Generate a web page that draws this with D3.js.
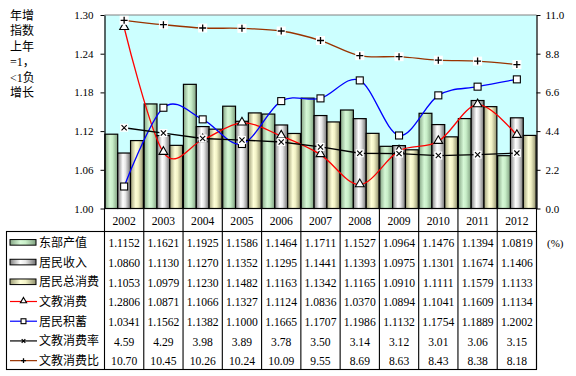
<!DOCTYPE html>
<html>
<head>
<meta charset="utf-8">
<script src="https://cdn.jsdelivr.net/npm/d3@7"></script>
<style>
  body { margin: 0; background: #fff; }
  svg { display: block; }
</style>
</head>
<body>
<div id="root"></div>
<script>
// chart values
const years = ["2002", "2003", "2004", "2005", "2006", "2007", "2008", "2009", "2010", "2011", "2012"];
const eastOutput = [1.1152, 1.1621, 1.1925, 1.1586, 1.1464, 1.1711, 1.1527, 1.0964, 1.1476, 1.1394, 1.0819];
const income = [1.0860, 1.1130, 1.1270, 1.1352, 1.1295, 1.1441, 1.1393, 1.0975, 1.1301, 1.1674, 1.1406];
const consumption = [1.1053, 1.0979, 1.1230, 1.1482, 1.1163, 1.1342, 1.1165, 1.0910, 1.1111, 1.1579, 1.1133];
const eduSpend = [1.2806, 1.0871, 1.1066, 1.1327, 1.1124, 1.0836, 1.0370, 1.0894, 1.1041, 1.1609, 1.1134];
const savings = [1.0341, 1.1562, 1.1382, 1.1000, 1.1665, 1.1707, 1.1986, 1.1132, 1.1754, 1.1889, 1.2002];
const eduRate = [4.59, 4.29, 3.98, 3.89, 3.78, 3.50, 3.14, 3.12, 3.01, 3.06, 3.15];
const eduRatio = [10.70, 10.45, 10.26, 10.24, 10.09, 9.55, 8.69, 8.63, 8.43, 8.38, 8.18];
const leftTicks = [1.00, 1.06, 1.12, 1.18, 1.24, 1.30];
const rightTicks = [0, 2.2, 4.4, 6.6, 8.8, 11.0];
const titleLines = ["年增", "指数", "上年", "=1，", "<1负", "增长"];

const barSeries = [
    { name: "东部产值", values: eastOutput, grad: "gGreen" },
    { name: "居民收入", values: income, grad: "gGray" },
    { name: "居民总消费", values: consumption, grad: "gYellow" }
];
const lineSeries = [
    { name: "文教消费", values: eduSpend, axis: "L", color: "#ff0000", marker: "tri", curve: d3.curveCardinal, fmt: ".4f" },
    { name: "居民积蓄", values: savings, axis: "L", color: "#0000ff", marker: "sq", curve: d3.curveCardinal, fmt: ".4f" },
    { name: "文教消费率", values: eduRate, axis: "R", color: "#000000", marker: "x", curve: d3.curveLinear, fmt: ".2f" },
    { name: "文教消费比", values: eduRatio, axis: "R", color: "#993300", marker: "plus", curve: d3.curveCardinal, fmt: ".2f" }
];

const w = 576, h = 376;
const plotL = 104.5, plotR = 536.5, plotT = 15, plotB = 208.5;
const tableT = 231.5, tableB = 369.5, tableL = 6.5;
const serif = "'Liberation Serif', 'Times New Roman', serif";
const mixed = "'Liberation Serif', 'Noto Sans CJK SC', serif";

const svg = d3.select("#root").append("svg")
    .attr("width", w)
    .attr("height", h);

// gradients for the bars
const defs = svg.append("defs");
const grads = {
    gGreen: ["#86a686", "#d6f8d6", "#c8eec8", "#7f9f7f"],
    gGray: ["#808080", "#ffffff", "#e8e8e8", "#707070"],
    gYellow: ["#9e9e78", "#ffffd8", "#f2f2c6", "#8f8f6c"]
};
Object.entries(grads).forEach(([id, c]) => {
    const g = defs.append("linearGradient").attr("id", id)
        .attr("x1", "0%").attr("x2", "100%").attr("y1", "0%").attr("y2", "0%");
    [0, 40, 60, 100].forEach((o, i) => g.append("stop").attr("offset", o + "%").attr("stop-color", c[i]));
});

const x = d3.scaleBand().domain(years).range([plotL, plotR]).padding(0);
const xs = d3.scaleBand().domain(barSeries.map(d => d.name)).range([0, x.bandwidth()]).paddingOuter(0.03);
const yL = d3.scaleLinear().domain([1, 1.3]).range([plotB, plotT]);
const yR = d3.scaleLinear().domain([0, 11]).range([plotB, plotT]);

// plot area
svg.append("rect")
    .attr("x", plotL).attr("y", plotT)
    .attr("width", plotR - plotL).attr("height", plotB - plotT)
    .attr("fill", "#ccffff");
svg.append("line")
    .attr("x1", plotL).attr("x2", plotR).attr("y1", plotT).attr("y2", plotT)
    .attr("stroke", "#808080");

// bars
barSeries.forEach(s => {
    svg.append("g").selectAll("rect")
        .data(s.values)
        .enter()
        .append("rect")
        .attr("x", (d, i) => x(years[i]) + xs(s.name))
        .attr("y", d => yL(d))
        .attr("width", xs.bandwidth())
        .attr("height", d => plotB - yL(d))
        .attr("fill", `url(#${s.grad})`)
        .attr("stroke", "#000")
        .attr("stroke-width", 1.2);
});

// markers
const drawMarker = (g, type, cx, cy, k) => {
    if (type === "tri") {
        g.append("path")
            .attr("d", d3.symbol(d3.symbolTriangle, 34 * k * k)())
            .attr("transform", `translate(${cx},${cy - 0.5})`)
            .attr("fill", "#fff").attr("stroke", "#000").attr("stroke-width", 1.1);
    } else if (type === "sq") {
        const s = 7 * k;
        g.append("rect").attr("x", cx - s / 2).attr("y", cy - s / 2)
            .attr("width", s).attr("height", s)
            .attr("fill", "#fff").attr("stroke", "#000").attr("stroke-width", 1.1);
    } else if (type === "x") {
        const s = 8 * k, a = 2.6 * k;
        if (k === 1) g.append("rect").attr("x", cx - s / 2).attr("y", cy - s / 2)
            .attr("width", s).attr("height", s).attr("fill", "#fff");
        g.append("path")
            .attr("d", `M${cx - a},${cy - a}L${cx + a},${cy + a}M${cx - a},${cy + a}L${cx + a},${cy - a}`)
            .attr("stroke", "#000").attr("stroke-width", 1.1);
    } else {
        const s = 9 * k, a = 3.5 * k;
        if (k === 1) g.append("rect").attr("x", cx - s / 2).attr("y", cy - s / 2)
            .attr("width", s).attr("height", s).attr("fill", "#fff");
        g.append("path")
            .attr("d", `M${cx - a},${cy}L${cx + a},${cy}M${cx},${cy - a}L${cx},${cy + a}`)
            .attr("stroke", "#000").attr("stroke-width", 1.3);
    }
};

// lines
lineSeries.forEach(s => {
    const y = s.axis === "L" ? yL : yR;
    const line = d3.line()
        .x((d, i) => x(years[i]) + x.bandwidth() / 2)
        .y(d => y(d))
        .curve(s.curve);
    const g = svg.append("g");
    g.append("path")
        .attr("d", line(s.values))
        .attr("fill", "none")
        .attr("stroke", s.color)
        .attr("stroke-width", 1.3);
    s.values.forEach((v, i) => drawMarker(g, s.marker, x(years[i]) + x.bandwidth() / 2, y(v), 1));
});

// axes
const axL = svg.append("g")
    .attr("transform", `translate(${plotL},0)`)
    .call(d3.axisLeft(yL).tickValues(leftTicks).tickFormat(d3.format(".2f")).tickSize(4).tickSizeOuter(0).tickPadding(7));
const axR = svg.append("g")
    .attr("transform", `translate(${plotR},0)`)
    .call(d3.axisRight(yR).tickValues(rightTicks).tickFormat(d3.format(".1f")).tickSize(4).tickSizeOuter(0).tickPadding(5));
[axL, axR].forEach(ax => {
    ax.selectAll("text").attr("font-family", serif).attr("font-size", 11).attr("fill", "#000");
    ax.select(".domain").attr("stroke", "#000").attr("stroke-width", 1.2);
});
axR.selectAll("line").attr("stroke", "#000");

svg.append("text")
    .attr("x", 547).attr("y", 247)
    .attr("font-family", serif).attr("font-size", 11)
    .text("(%)");

// left title
svg.append("g").selectAll("text")
    .data(titleLines)
    .enter()
    .append("text")
    .attr("x", 10)
    .attr("y", (d, i) => 20 + i * 15.4)
    .attr("font-family", mixed)
    .attr("font-size", 12)
    .text(d => d);

// x axis line + data table grid
const grid = svg.append("g").attr("stroke", "#000").attr("stroke-width", 1.1);
grid.append("line").attr("x1", plotL).attr("x2", plotR).attr("y1", plotB).attr("y2", plotB);
grid.append("rect")
    .attr("x", tableL).attr("y", tableT)
    .attr("width", plotR - tableL).attr("height", tableB - tableT)
    .attr("fill", "none");
grid.selectAll("line.sep")
    .data(years.map(d => x(d)).concat([plotR]))
    .enter()
    .append("line")
    .attr("class", "sep")
    .attr("x1", d => d).attr("x2", d => d)
    .attr("y1", plotB).attr("y2", tableB);

// year labels
svg.append("g").selectAll("text")
    .data(years)
    .enter()
    .append("text")
    .attr("transform", d => `translate(${x(d) + x.bandwidth() / 2},${225}) scale(0.86,1)`)
    .attr("text-anchor", "middle")
    .attr("font-family", serif)
    .attr("font-size", 13.5)
    .text(d => d);

// table rows
const rowNames = barSeries.map(d => d.name).concat(lineSeries.map(d => d.name));
const row = d3.scaleBand().domain(rowNames).range([tableT, tableB]);
const rowMid = n => row(n) + row.bandwidth() / 2 + 1;

barSeries.forEach(s => {
    const cy = rowMid(s.name);
    svg.append("rect")
        .attr("x", 10).attr("y", cy - 2.8)
        .attr("width", 26).attr("height", 5.6)
        .attr("fill", `url(#${s.grad})`)
        .attr("stroke", "#000").attr("stroke-width", 1);
});
lineSeries.forEach(s => {
    const cy = rowMid(s.name);
    const g = svg.append("g");
    g.append("line").attr("x1", 10).attr("x2", 37).attr("y1", cy).attr("y2", cy)
        .attr("stroke", s.color).attr("stroke-width", 1.2);
    drawMarker(g, s.marker, 23.5, cy, 0.7);
});

svg.append("g").selectAll("text")
    .data(rowNames)
    .enter()
    .append("text")
    .attr("x", 39)
    .attr("y", d => rowMid(d) + 4.5)
    .attr("font-family", mixed)
    .attr("font-size", 12)
    .text(d => d);

const allSeries = barSeries.map(d => ({ name: d.name, values: d.values, fmt: ".4f" }))
    .concat(lineSeries);
allSeries.forEach(s => {
    const f = d3.format(s.fmt);
    svg.append("g").selectAll("text")
        .data(s.values)
        .enter()
        .append("text")
        .attr("transform", (d, i) => `translate(${x(years[i]) + x.bandwidth() / 2},${rowMid(s.name) + 4.8}) scale(0.86,1)`)
        .attr("text-anchor", "middle")
        .attr("font-family", serif)
        .attr("font-size", 13.5)
        .text(d => f(d));
});
</script>
</body>
</html>
